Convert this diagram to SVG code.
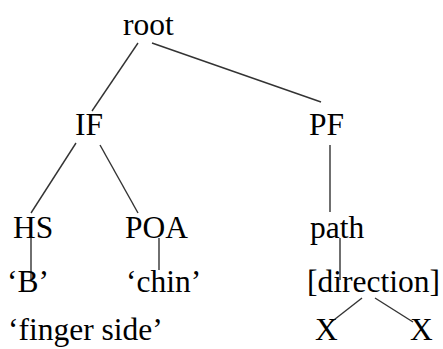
<svg xmlns="http://www.w3.org/2000/svg" width="443" height="349" viewBox="0 0 443 349">
<style>
.t{font-family:'Liberation Serif','Times New Roman',Times,serif;font-size:31.5px;fill:#000}
line{stroke:#333;stroke-width:1.4}
</style>
<rect width="443" height="349" fill="#fff"/>
<g id="connectors">
<line x1="138" y1="43" x2="92" y2="111"/>
<line x1="152" y1="43" x2="321" y2="102"/>
<line x1="76" y1="143" x2="31" y2="213"/>
<line x1="100" y1="145" x2="138" y2="213"/>
<line x1="330" y1="145" x2="330" y2="212"/>
<line x1="31" y1="238" x2="31" y2="280"/>
<line x1="159" y1="238" x2="159" y2="270"/>
<line x1="340" y1="238" x2="340" y2="280"/>
<line x1="362" y1="298" x2="330" y2="323"/>
<line x1="375" y1="298" x2="413" y2="322"/>
</g>
<g class="t">
<g id="root"><text x="123" y="35">root</text></g>
<g id="IF"><text x="75" y="135">IF</text></g>
<g id="PF"><text x="309" y="135">PF</text></g>
<g id="HS"><text x="13" y="238">HS</text></g>
<g id="POA"><text x="125" y="238">POA</text></g>
<g id="path"><text x="310" y="238">path</text></g>
<g id="B"><text x="7" y="292">‘B’</text></g>
<g id="chin"><text x="126" y="292">‘chin’</text></g>
<g id="direction"><text x="307" y="292">[direction]</text></g>
<g id="finger-side"><text x="8" y="340">‘finger side’</text></g>
<g id="X1"><text x="315" y="340">X</text></g>
<g id="X2"><text x="410" y="340">X</text></g>
</g>
</svg>
